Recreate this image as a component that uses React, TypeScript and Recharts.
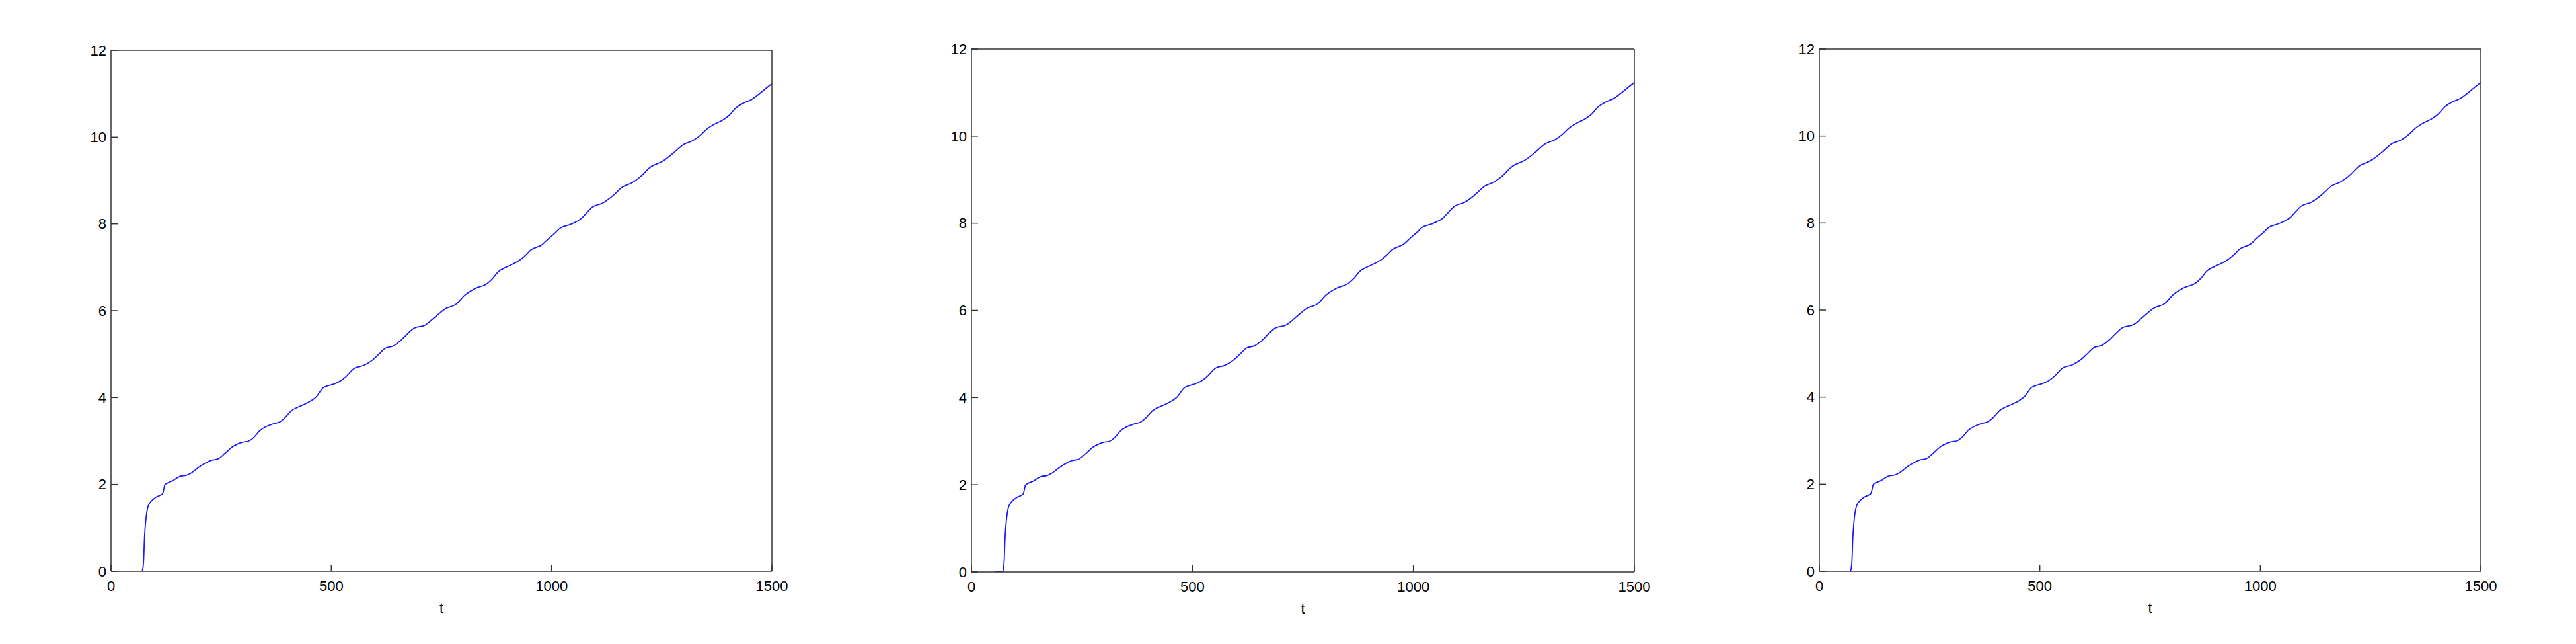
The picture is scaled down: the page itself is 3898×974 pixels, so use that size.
import React from 'react';
import { LineChart, Line, XAxis, YAxis, Label } from 'recharts';

// time samples (t) and the curve values
const tValues = [
  52, 60, 70, 72, 74, 76, 79, 84, 91, 101, 113, 117, 120, 122, 128, 141, 150, 158, 171, 183,
  192, 201, 214, 226, 243, 258, 276, 287, 298, 313, 323, 338, 356, 370, 383, 393, 411, 422, 433, 453,
  466, 481, 495, 508, 520, 533, 553, 573, 593, 608, 623, 641, 658, 673, 688, 713, 728, 743, 758, 783,
  803, 828, 853, 866, 878, 896, 913, 928, 940, 953, 978, 993, 1008, 1018, 1043, 1068, 1080, 1093, 1116, 1138,
  1161, 1183, 1203, 1223, 1253, 1275, 1298, 1321, 1336, 1353, 1370, 1388, 1403, 1418, 1435, 1453, 1473, 1486, 1500,
];
const xValues = [
  0, 0, 0, 0.05, 0.25, 0.78, 1.18, 1.49, 1.61, 1.7, 1.76, 1.79, 1.9, 1.99, 2.03, 2.09, 2.15, 2.19, 2.21, 2.27,
  2.34, 2.41, 2.49, 2.55, 2.59, 2.71, 2.87, 2.93, 2.97, 3.0, 3.07, 3.24, 3.35, 3.4, 3.44, 3.52, 3.71, 3.77, 3.82, 3.92,
  4.02, 4.22, 4.28, 4.32, 4.38, 4.48, 4.68, 4.74, 4.86, 5.0, 5.14, 5.19, 5.32, 5.47, 5.6, 5.67, 5.79, 5.92, 6.04, 6.15,
  6.36, 6.52, 6.62, 6.74, 6.89, 7.0, 7.08, 7.17, 7.27, 7.4, 7.52, 7.66, 7.79, 7.89, 7.99, 8.13, 8.26, 8.39, 8.48, 8.64,
  8.85, 8.95, 9.1, 9.3, 9.45, 9.62, 9.82, 9.92, 10.03, 10.19, 10.3, 10.39, 10.5, 10.67, 10.78, 10.86, 11.01, 11.12, 11.23,
];
const xTicks = [0, 500, 1000, 1500];
const yTicks = [0, 2, 4, 6, 8, 10, 12];
const xLabel = 't';

const data = tValues.map((t, i) => ({ t, x: xValues[i] }));

const panels = [
  { left: 168, top: 76, right: 1168, bottom: 864 },
  { left: 1470, top: 74, right: 2473, bottom: 865 },
  { left: 2753, top: 74, right: 3754, bottom: 864 },
];

const FONT = '"Liberation Sans", Arial, Helvetica, sans-serif';
const AXIS = '#333333';
const tickStyle = { fontSize: 22, fill: '#000000', fontFamily: FONT };

function Panel({ p }: { p: { left: number; top: number; right: number; bottom: number } }) {
  const plotW = p.right - p.left;
  const width = plotW + 140;
  const height = 974;
  return (
    <div style={{ position: 'absolute', left: p.left - 100, top: 0, width, height }}>
      <LineChart
        width={width}
        height={height}
        data={data}
        margin={{ top: p.top - 10, right: 30, bottom: height - p.bottom - 70, left: 40 }}
      >
        <XAxis
          xAxisId="b"
          dataKey="t"
          type="number"
          domain={[0, 1500]}
          ticks={xTicks}
          height={70}
          tickSize={-10}
          tickMargin={24}
          tick={tickStyle}
          axisLine={{ stroke: AXIS, strokeWidth: 1.5 }}
          tickLine={{ stroke: AXIS, strokeWidth: 1.5 }}
          interval={0}
          allowDataOverflow
        >
          <Label value={xLabel} position="insideBottom" offset={7} style={{ fontSize: 22, fill: '#000', fontFamily: FONT }} />
        </XAxis>
        <XAxis
          xAxisId="t"
          orientation="top"
          dataKey="t"
          type="number"
          domain={[0, 1500]}
          ticks={xTicks}
          height={10}
          tickSize={-10}
          tick={false}
          axisLine={{ stroke: AXIS, strokeWidth: 1.5 }}
          tickLine={{ stroke: AXIS, strokeWidth: 1.5 }}
          interval={0}
          allowDataOverflow
        />
        <YAxis
          yAxisId="l"
          type="number"
          domain={[0, 12]}
          ticks={yTicks}
          width={60}
          tickSize={-10}
          tickMargin={17}
          tick={tickStyle}
          axisLine={{ stroke: AXIS, strokeWidth: 1.5 }}
          tickLine={{ stroke: AXIS, strokeWidth: 1.5 }}
          interval={0}
          allowDataOverflow
        />
        <YAxis
          yAxisId="r"
          orientation="right"
          type="number"
          domain={[0, 12]}
          ticks={yTicks}
          width={10}
          tickSize={-10}
          tick={false}
          axisLine={{ stroke: AXIS, strokeWidth: 1.5 }}
          tickLine={{ stroke: AXIS, strokeWidth: 1.5 }}
          interval={0}
          allowDataOverflow
        />
        <Line
          xAxisId="b"
          yAxisId="l"
          type="monotone"
          dataKey="x"
          stroke="#1a1aff"
          strokeWidth={1.8}
          dot={false}
          isAnimationActive={false}
        />
      </LineChart>
    </div>
  );
}

export default function App() {
  return (
    <div style={{ position: 'absolute', left: 0, top: 0, width: 3898, height: 974, background: '#ffffff', overflow: 'hidden' }}>
      {panels.map((p, i) => (
        <Panel key={i} p={p} />
      ))}
    </div>
  );
}
